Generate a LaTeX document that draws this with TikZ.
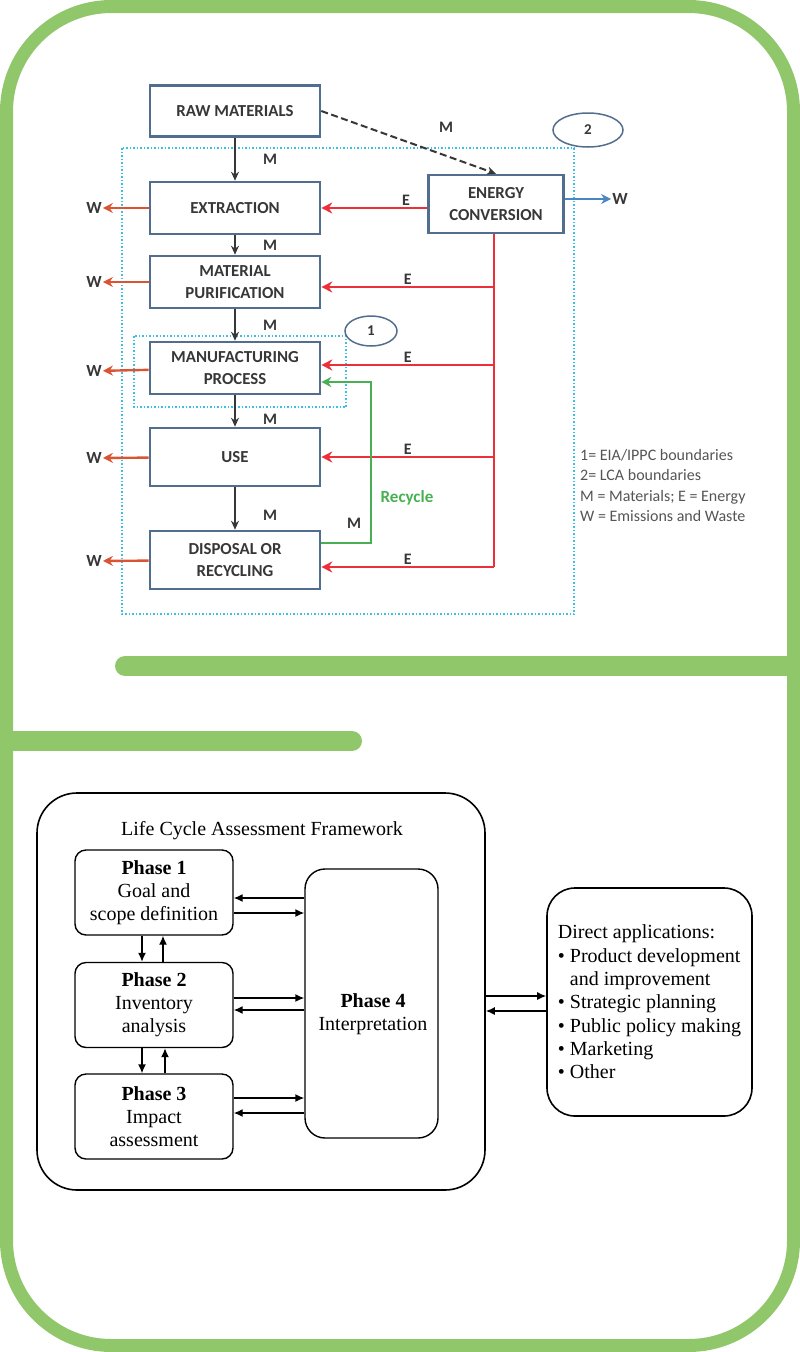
\documentclass[tikz,border=0pt]{standalone}
\usepackage{fontspec}
\setmainfont{Liberation Serif}
\newfontfamily\calfont{Carlito}
\usepackage{tikz}
\usetikzlibrary{arrows.meta, positioning, shapes.geometric}

\definecolor{framegreen}{RGB}{145,199,107}
\definecolor{boxblue}{RGB}{82,110,142}
\definecolor{textgray}{RGB}{55,55,55}
\definecolor{ered}{RGB}{236,48,58}
\definecolor{wred}{RGB}{218,84,52}
\definecolor{rgreen}{RGB}{72,176,82}
\definecolor{wblue}{RGB}{74,134,196}
\definecolor{lcacyan}{RGB}{62,190,226}

\tikzset{
  lcabox/.style={draw=boxblue, line width=2.6pt, fill=white, align=center,
    minimum width=170pt, minimum height=52pt, text=textgray,
    font=\calfont\bfseries\fontsize{16.8}{22}\selectfont},
  flowlab/.style={text=textgray, inner sep=1pt, font=\calfont\bfseries\fontsize{16}{18}\selectfont},
  wlab/.style={text=textgray, inner sep=1pt, font=\calfont\bfseries\fontsize{17}{18}\selectfont},
  bound/.style={ellipse, draw=boxblue, line width=1.5pt, fill=white, inner sep=0pt,
    text=textgray, font=\calfont\bfseries\fontsize{15}{16}\selectfont},
  marrow/.style={-{Stealth[length=9pt,width=8pt]}, line width=2pt, color=textgray},
  earrow/.style={-{Stealth[length=11pt,width=11pt]}, line width=2.6pt, color=ered},
  wout/.style={-{Stealth[length=10pt,width=10pt]}, line width=2.4pt, color=wred},
  phase/.style={draw, line width=1.4pt, rounded corners=11pt, align=center,
    minimum width=158pt, minimum height=85pt, font=\fontsize{20}{23}\selectfont},
  barrow/.style={-{Latex[length=9pt,width=8pt]}, line width=1.4pt}
}

\begin{document}
\begin{tikzpicture}[x=1pt, y=-1pt]
\useasboundingbox (0,0) rectangle (800,1352);

% green frame
\draw[framegreen, line width=13pt, rounded corners=105pt] (6.5,6.5) rectangle (793.5,1345.5);
\draw[framegreen, line width=20pt, line cap=round] (125,666) -- (793.5,666);
\draw[framegreen, line width=20pt, line cap=round] (6.5,741) -- (352,741);

% boundaries
\draw[lcacyan, line width=1.5pt, dotted] (122,148) rectangle (574,614);
\draw[lcacyan, line width=1.5pt, dotted] (134,336) rectangle (346,407);
\node (lca) [bound, minimum width=70pt, minimum height=34pt] at (588,130) {2};
\node (eia) [bound, minimum width=52pt, minimum height=30pt] at (371,331) {1};

% life cycle stages
\node (raw) [lcabox, minimum height=51pt] at (235,111) {RAW MATERIALS};
\node (ext) [lcabox] at (235,208) {EXTRACTION};
\node (mat) [lcabox] at (235,282) {MATERIAL\\PURIFICATION};
\node (manuf) [lcabox] at (235,368) {MANUFACTURING\\PROCESS};
\node (use) [lcabox, minimum height=58pt] at (235,457) {USE};
\node (disp) [lcabox, minimum height=58pt] at (235,560) {DISPOSAL OR\\RECYCLING};
\node (ec) [lcabox, minimum width=135pt, minimum height=58pt] at (496,204) {ENERGY\\CONVERSION};

% waste outputs
\node (w1) [wlab] at (94,208) {W};
\node (w2) [wlab] at (94,282) {W};
\node (w3) [wlab] at (94,371) {W};
\node (w4) [wlab] at (94,458) {W};
\node (w5) [wlab] at (94,561) {W};
\node (w0) [wlab] at (620,199) {W};

\path [wout]
  (ext) edge (w1)
  (mat) edge (w2)
  (manuf) edge (w3)
  (use) edge (w4)
  (disp) edge (w5);
\draw[-{Stealth[length=10pt,width=10pt]}, line width=2.2pt, wblue] (ec.east |- w0) -- (w0);

% materials
\path [marrow]
  (raw) edge node[flowlab, anchor=west, xshift=26pt] {M} (ext)
  (ext) edge node[flowlab, anchor=west, xshift=26pt] {M} (mat)
  (mat) edge node[flowlab, anchor=west, xshift=26pt] {M} (manuf)
  (manuf) edge node[flowlab, anchor=west, xshift=26pt, pos=.77] {M} (use)
  (use) edge node[flowlab, anchor=west, xshift=26pt, pos=.67] {M} (disp);
\draw[-{Stealth[length=9pt,width=8pt]}, line width=2pt, textgray, dash pattern=on 7pt off 3.5pt]
  (raw.east) -- (ec.north);
\node (mraw) [flowlab] at (446,127) {M};

% energy
\coordinate (j1) at (494,287);
\coordinate (j2) at (494,365);
\coordinate (j3) at (494,457);
\coordinate (j4) at (494,567);
\draw[ered, line width=2.6pt] (ec.south -| j4) -- (j4);
\path [earrow]
  (ec.west |- ext) edge node[flowlab, above, pos=.2] {E} (ext)
  (j1) edge node[flowlab, above, pos=.5] {E} (j1 -| mat.east)
  (j2) edge node[flowlab, above, pos=.5] {E} (j2 -| manuf.east)
  (j3) edge node[flowlab, above, pos=.5] {E} (j3 -| use.east)
  (j4) edge node[flowlab, above, pos=.5] {E} (j4 -| disp.east);

% recycle loop
\coordinate (rc) at (371,382);
\draw[-{Stealth[length=10pt,width=10pt]}, line width=2.1pt, rgreen]
  ([yshift=17pt]disp.east) -| (rc) -- (rc -| manuf.east);
\node (mrec) [flowlab] at (354,523) {M};
\node (recycle) [text=rgreen, font=\calfont\bfseries\fontsize{17}{18}\selectfont] at (407,498) {Recycle};

% legend
\node (legend) [anchor=north west, align=left, inner sep=0pt, text=textgray!85,
  font=\calfont\fontsize{16}{20.5}\selectfont] at (580,449)
  {1= EIA/IPPC boundaries\\2= LCA boundaries\\M = Materials; E = Energy\\W = Emissions and Waste};

% LCA framework
\node (lcaf) [draw, line width=1.6pt, rounded corners=40pt, minimum width=448pt, minimum height=397pt] at (261,991.5) {};
\node (title) [font=\fontsize{20}{23}\selectfont] at (262,831) {Life Cycle Assessment Framework};
\node (p1) [phase] at (154,892.5) {\textbf{Phase 1}\\Goal and\\scope definition};
\node (p2) [phase] at (154,1005) {\textbf{Phase 2}\\Inventory\\analysis};
\node (p3) [phase] at (154,1116.5) {\textbf{Phase 3}\\Impact\\assessment};
\node (p4) [phase, minimum width=133pt, minimum height=269pt, rounded corners=20pt] at (371.5,1003.5) {};
\node (p4text) [align=center, font=\fontsize{20}{23}\selectfont] at (373,1014) {\textbf{Phase 4}\\Interpretation};
\node (apps) [draw, line width=1.6pt, rounded corners=28pt, minimum width=205pt, minimum height=228pt,
  align=left, font=\fontsize{20}{23.3}\selectfont] at (649.5,1002)
  {Direct applications:\\
   \textbullet\ Product development\\
   \hphantom{\textbullet\ }and improvement\\
   \textbullet\ Strategic planning\\
   \textbullet\ Public policy making\\
   \textbullet\ Marketing\\
   \textbullet\ Other};

\draw[barrow] ([yshift=-5.5pt]p1.east -| p4.west) -- ([yshift=-5.5pt]p1.east);
\draw[barrow] ([yshift=-20.5pt]p1.east) -- ([yshift=-20.5pt]p1.east -| p4.west);
\draw[barrow] ([yshift=7pt]p2.east) -- ([yshift=7pt]p2.east -| p4.west);
\draw[barrow] ([yshift=-5pt]p2.east -| p4.west) -- ([yshift=-5pt]p2.east);
\draw[barrow] ([yshift=18.5pt]p3.east) -- ([yshift=18.5pt]p3.east -| p4.west);
\draw[barrow] ([yshift=3.5pt]p3.east -| p4.west) -- ([yshift=3.5pt]p3.east);

\draw[barrow] ([xshift=-12pt]p1.south) -- ([xshift=-12pt]p1.south |- p2.north);
\draw[barrow] ([xshift=9pt]p2.north) -- ([xshift=9pt]p2.north |- p1.south);
\draw[barrow] ([xshift=-12pt]p2.south) -- ([xshift=-12pt]p2.south |- p3.north);
\draw[barrow] ([xshift=11pt]p3.north) -- ([xshift=11pt]p3.north |- p2.south);

\draw[barrow] ([yshift=6pt]apps.west -| lcaf.east) -- ([yshift=6pt]apps.west);
\draw[barrow] ([yshift=-9pt]apps.west) -- ([yshift=-9pt]apps.west -| lcaf.east);
\end{tikzpicture}
\end{document}
